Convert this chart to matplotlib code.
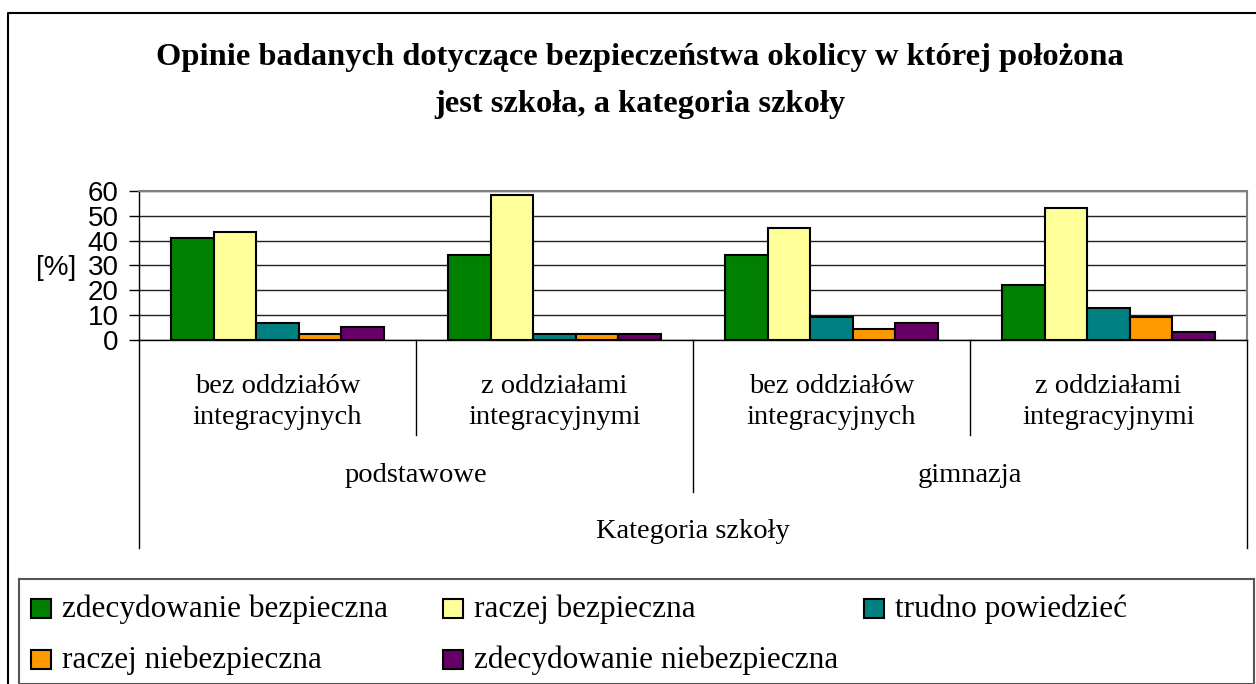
import numpy as np
import matplotlib
matplotlib.use("Agg")
import matplotlib.pyplot as plt
from matplotlib.patches import Rectangle
from matplotlib.lines import Line2D
import matplotlib.transforms as mtransforms

# data
subcats = ["bez oddziałów\nintegracyjnych", "z oddziałami\nintegracyjnymi",
           "bez oddziałów\nintegracyjnych", "z oddziałami\nintegracyjnymi"]
groups = ["podstawowe", "gimnazja"]
series = ["zdecydowanie bezpieczna", "raczej bezpieczna", "trudno powiedzieć",
          "raczej niebezpieczna", "zdecydowanie niebezpieczna"]
zdec_bezp = [41.0, 34.1, 34.1, 22.2]
raczej_bezp = [43.5, 58.2, 45.3, 53.1]
trudno = [6.7, 2.4, 9.4, 12.8]
raczej_niebezp = [2.4, 2.4, 4.3, 9.4]
zdec_niebezp = [5.1, 2.4, 6.9, 3.4]
values = [zdec_bezp, raczej_bezp, trudno, raczej_niebezp, zdec_niebezp]
colors = ["#008000", "#FFFF99", "#008080", "#FF9900", "#660066"]
yticks = [0, 10, 20, 30, 40, 50, 60]

serif = "Liberation Serif"
sans = "Liberation Sans"

W, H = 1256, 684
fig = plt.figure(figsize=(W / 100, H / 100), dpi=100)

def fx(px):
    return px / W

def fy(py):
    return 1 - py / H

# outer chart border (left and top edges visible)
fig.lines.append(Line2D([fx(8), fx(8), 1.0], [0, fy(13), fy(13)],
                        transform=fig.transFigure, color="black", lw=1.5))

fig.text(fx(640), fy(81), "Opinie badanych dotyczące bezpieczeństwa okolicy w której położona\njest szkoła, a kategoria szkoły",
         ha="center", va="center", fontsize=23.4, fontweight="bold",
         family=serif, linespacing=1.78)

ax = fig.add_axes([fx(139), fy(340), fx(1247) - fx(139), fy(191) - fy(340)])
n = len(series)
bw = 1 / (n + 1.5)
x = np.arange(len(subcats))
for i in range(n):
    ax.bar(x - bw * (n - 1) / 2 + i * bw, values[i], bw, color=colors[i],
           edgecolor="black", linewidth=1.5, zorder=3, label=series[i])

ax.set_xlim(-0.5, len(subcats) - 0.5)
ax.set_ylim(0, 60)
ax.set_yticks(yticks)
ax.set_yticklabels([str(t) for t in yticks], family=sans, fontsize=20)
ax.tick_params(axis="y", direction="out", length=7.2, width=1, pad=7.5)
ax.set_xticks([])
ax.yaxis.grid(True, color="#222222", lw=1, zorder=0)
for s in ["top", "right"]:
    ax.spines[s].set_color("#808080")
    ax.spines[s].set_linewidth(1.5)
ax.spines["left"].set_linewidth(1)
ax.spines["bottom"].set_linewidth(1)
ax.text(fx(76), fy(268), "[%]", transform=fig.transFigure, ha="right",
        va="center", family=sans, fontsize=20)

# multi-level category axis
trans = mtransforms.blended_transform_factory(ax.transData, ax.transAxes)
ph = 149.0

def ay(py):
    return -(py - 340) / ph

for xb, yb in [(-0.5, 548), (0.5, 435), (1.5, 492), (2.5, 435), (3.5, 548)]:
    ax.plot([xb, xb], [0, ay(yb)], color="black", lw=1, transform=trans,
            clip_on=False)
for xi, lab in zip(x, subcats):
    ax.text(xi, ay(402), lab, transform=trans, ha="center", va="center",
            family=serif, fontsize=20.5, linespacing=1.33)
for gi, g in enumerate(groups):
    ax.text(2 * gi + 0.5, ay(476), g, transform=trans, ha="center",
            va="center", family=serif, fontsize=20.5)
ax.text(1.5, ay(531), "Kategoria szkoły", transform=trans, ha="center",
        va="center", family=serif, fontsize=20.5)

# legend box
lax = fig.add_axes([fx(19), 0, 1 - fx(19) - fx(2), fy(579)])
lax.set_xlim(19, 1254)
lax.set_ylim(684, 579)
lax.set_xticks([])
lax.set_yticks([])
for s in lax.spines.values():
    s.set_linewidth(1.5)
    s.set_color("#555555")
col_x = [31, 443, 864]
row_y = [608, 659]
for i, name in enumerate(series):
    cx = col_x[i % 3]
    cy = row_y[i // 3]
    lax.add_patch(Rectangle((cx, cy - 9.5), 20, 19, facecolor=colors[i],
                            edgecolor="black", lw=1.5))
    lax.text(cx + 31, cy + 1, name, ha="left", va="center", family=serif,
             fontsize=22.5)

fig.savefig("out.png", dpi=100)
